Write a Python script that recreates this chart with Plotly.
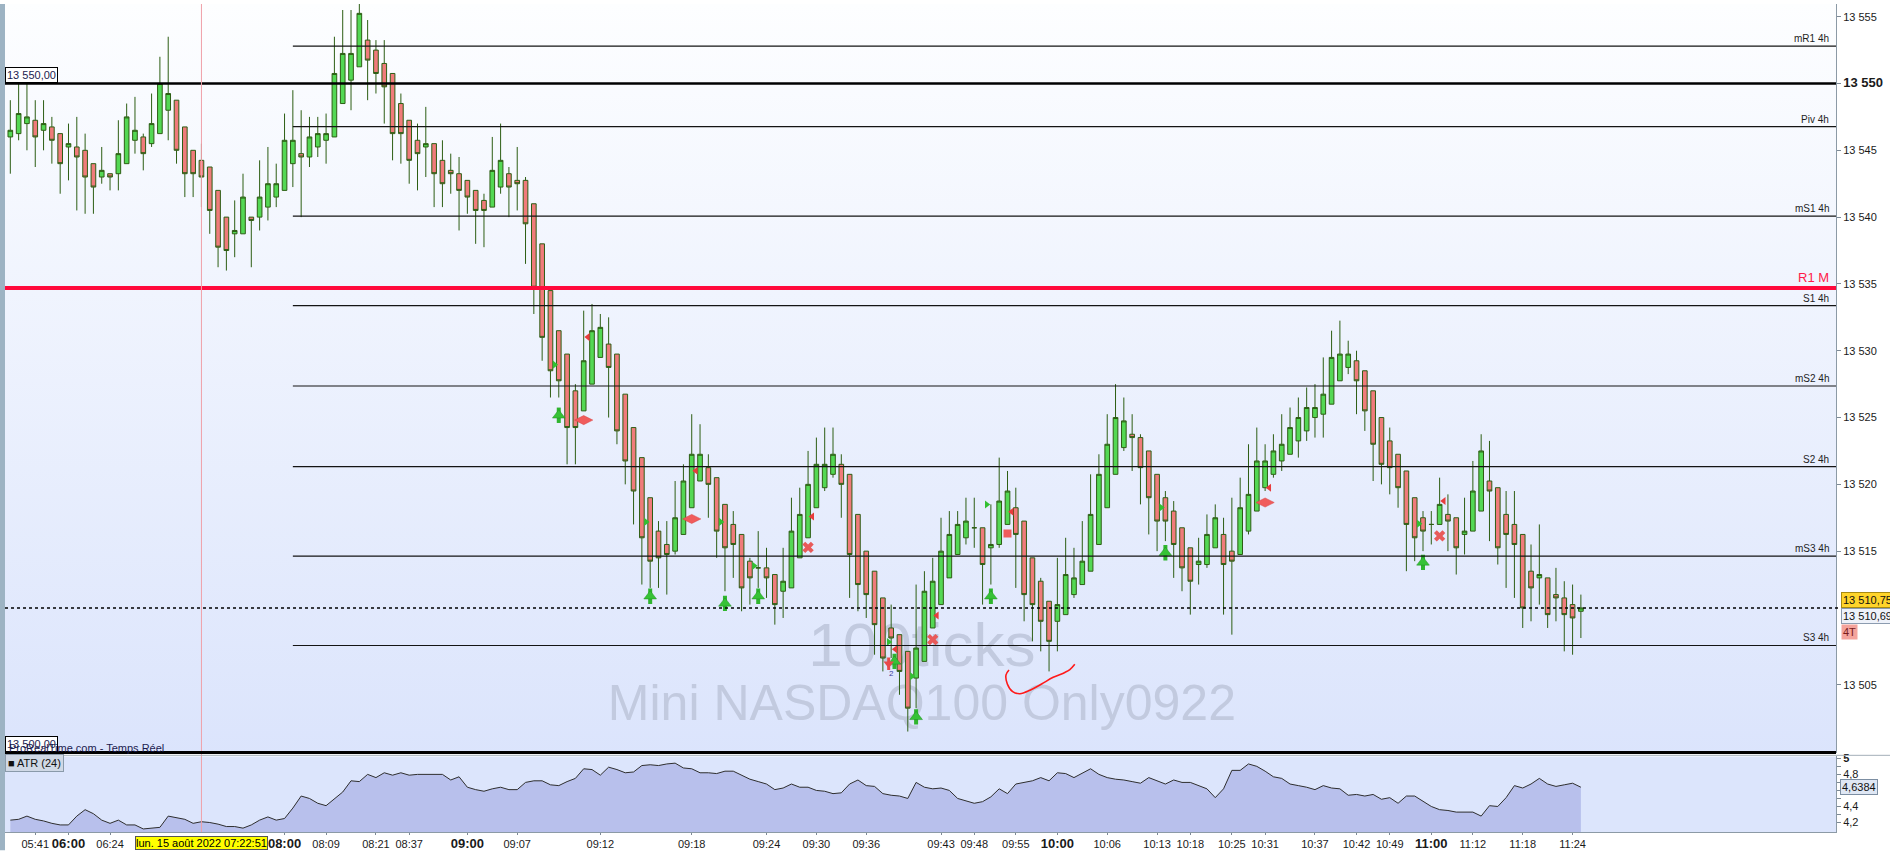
import plotly.graph_objects as go

# ---- data (one bar = 100 ticks, Mini NASDAQ100) ----
bars = list(range(1, 191))

opens = [
    13546.0, 13546.25, 13547.0, 13547.25, 13546.5, 13546.75, 13546.25, 13545.25, 13545.25, 13545.0,
    13544.0, 13543.0, 13543.25, 13543.25, 13544.0, 13545.75, 13546.0, 13545.5, 13546.25, 13548.0,
    13548.75, 13546.75, 13545.0, 13544.25, 13543.75, 13542.0, 13540.0, 13538.75, 13538.75, 13540.0,
    13540.0, 13540.75, 13541.5, 13542.0, 13544.0, 13544.75, 13544.5, 13545.25, 13545.75, 13546.0,
    13548.5, 13550.25, 13551.25, 13553.25, 13552.5, 13551.5, 13550.75, 13548.5, 13547.25, 13545.75,
    13545.25, 13545.5, 13544.25, 13543.5, 13543.25, 13542.75, 13542.0, 13541.25, 13540.75, 13542.25,
    13543.25, 13542.75, 13542.75, 13541.0, 13538.0, 13534.5, 13531.5, 13529.75, 13527.0, 13525.5,
    13527.5, 13529.5, 13530.5, 13529.75, 13526.75, 13524.25, 13522.0, 13519.0, 13516.5, 13515.5,
    13515.0, 13516.25, 13518.25, 13520.25, 13521.25, 13520.5, 13518.5, 13517.0, 13516.25, 13514.25,
    13513.75, 13513.75, 13513.25, 13512.0, 13512.25, 13514.5, 13516.0, 13518.25, 13519.75, 13520.75,
    13521.5, 13520.75, 13517.75, 13515.0, 13513.5, 13511.5, 13509.25, 13508.75, 13507.5, 13505.5,
    13506.75, 13509.25, 13511.0, 13513.0, 13514.75, 13516.0, 13516.75, 13516.75, 13515.25, 13515.5,
    13517.0, 13518.25, 13517.25, 13514.5, 13512.75, 13511.25, 13509.75, 13510.25, 13511.75, 13512.5,
    13513.5, 13515.5, 13518.25, 13520.75, 13522.75, 13523.75, 13523.5, 13522.5, 13520.75, 13519.0,
    13518.0, 13516.75, 13515.25, 13514.0, 13514.0, 13515.25, 13516.25, 13515.0, 13514.75, 13516.5,
    13518.0, 13519.75, 13520.75, 13521.75, 13522.25, 13523.25, 13524.0, 13525.0, 13525.25, 13526.0,
    13527.75, 13528.75, 13529.25, 13528.5, 13527.0, 13525.0, 13523.25, 13522.25, 13521.0, 13519.0,
    13517.5, 13517.0, 13517.0, 13517.75, 13517.5, 13516.25, 13516.5, 13518.0, 13520.25, 13519.75,
    13517.75, 13517.0, 13516.25, 13513.5, 13513.0, 13513.0, 13511.75, 13511.5, 13511.0, 13510.5,
]

highs = [
    13548.75, 13550.0, 13550.0, 13548.75, 13548.75, 13547.5, 13546.25, 13547.0, 13547.5, 13546.25,
    13544.0, 13545.25, 13543.25, 13547.25, 13548.5, 13549.0, 13546.25, 13549.25, 13552.0, 13553.5,
    13548.75, 13546.75, 13545.0, 13545.5, 13543.75, 13542.0, 13540.0, 13541.25, 13543.25, 13540.0,
    13544.25, 13545.25, 13544.0, 13547.75, 13549.5, 13548.0, 13547.5, 13547.5, 13547.75, 13553.5,
    13555.5, 13555.5, 13556.0, 13554.75, 13553.25, 13553.25, 13550.75, 13549.25, 13547.25, 13547.0,
    13548.25, 13545.5, 13545.75, 13544.75, 13544.5, 13542.75, 13542.0, 13541.75, 13546.0, 13547.0,
    13543.75, 13545.25, 13543.0, 13541.0, 13538.0, 13534.5, 13531.5, 13529.75, 13527.5, 13533.0,
    13533.5, 13532.75, 13532.5, 13529.75, 13526.75, 13524.25, 13522.0, 13519.0, 13517.25, 13517.25,
    13520.25, 13521.5, 13525.25, 13524.5, 13522.25, 13520.5, 13518.5, 13518.0, 13516.25, 13514.5,
    13516.5, 13515.25, 13513.25, 13515.25, 13519.0, 13519.75, 13522.5, 13523.5, 13524.25, 13524.25,
    13522.25, 13520.75, 13517.75, 13515.0, 13513.5, 13511.5, 13511.0, 13508.75, 13507.5, 13512.5,
    13513.5, 13514.5, 13517.5, 13518.0, 13518.0, 13519.0, 13519.0, 13516.75, 13518.5, 13522.0,
    13521.0, 13519.75, 13517.25, 13514.5, 13513.0, 13511.25, 13514.5, 13516.0, 13515.25, 13517.25,
    13520.75, 13522.25, 13525.25, 13527.5, 13526.5, 13525.25, 13523.75, 13522.5, 13520.75, 13519.5,
    13518.75, 13516.75, 13515.25, 13516.0, 13517.75, 13518.5, 13517.5, 13519.0, 13520.5, 13523.0,
    13524.25, 13523.0, 13523.75, 13525.25, 13525.75, 13526.5, 13527.25, 13527.5, 13529.5, 13531.5,
    13532.25, 13530.75, 13530.0, 13528.5, 13527.0, 13525.0, 13524.25, 13522.25, 13521.0, 13519.0,
    13518.0, 13518.0, 13520.5, 13519.25, 13517.5, 13519.0, 13521.75, 13523.75, 13523.25, 13519.75,
    13519.5, 13519.5, 13516.25, 13515.5, 13517.0, 13513.0, 13513.75, 13512.75, 13512.5, 13511.75,
]

lows = [
    13543.25, 13545.75, 13545.0, 13543.75, 13545.0, 13544.0, 13541.75, 13542.75, 13540.5, 13540.25,
    13540.25, 13542.5, 13542.0, 13542.0, 13544.0, 13544.75, 13543.5, 13545.25, 13546.25, 13545.75,
    13544.0, 13541.5, 13541.5, 13540.75, 13538.75, 13536.25, 13536.0, 13537.0, 13538.75, 13536.25,
    13539.0, 13539.75, 13540.75, 13542.0, 13542.25, 13540.0, 13543.75, 13544.5, 13544.0, 13546.0,
    13548.5, 13548.0, 13551.25, 13548.75, 13549.25, 13547.0, 13544.25, 13544.0, 13542.5, 13542.0,
    13543.0, 13540.75, 13540.75, 13541.75, 13539.0, 13540.25, 13538.0, 13537.75, 13540.75, 13541.75,
    13540.0, 13540.5, 13536.5, 13532.75, 13529.25, 13526.5, 13526.5, 13521.5, 13521.5, 13525.5,
    13527.5, 13529.5, 13525.0, 13523.0, 13520.0, 13517.0, 13512.5, 13512.25, 13512.25, 13511.75,
    13514.75, 13516.25, 13518.25, 13520.25, 13517.5, 13514.5, 13512.0, 13513.0, 13510.5, 13511.0,
    13512.25, 13511.5, 13509.5, 13510.0, 13512.25, 13514.5, 13516.0, 13518.25, 13519.5, 13520.5,
    13517.5, 13511.5, 13510.5, 13510.0, 13507.25, 13506.0, 13507.0, 13504.25, 13501.5, 13503.25,
    13506.75, 13509.25, 13511.0, 13513.0, 13514.75, 13515.5, 13515.25, 13511.0, 13512.5, 13515.25,
    13517.0, 13512.25, 13509.75, 13508.25, 13507.5, 13506.0, 13507.5, 13510.25, 13511.5, 13512.5,
    13513.5, 13515.5, 13518.25, 13520.75, 13522.5, 13521.0, 13518.5, 13516.25, 13515.0, 13515.75,
    13513.0, 13512.0, 13510.25, 13512.5, 13513.75, 13515.25, 13510.25, 13508.75, 13514.75, 13516.25,
    13518.0, 13519.5, 13520.5, 13521.0, 13522.25, 13522.0, 13523.25, 13523.5, 13523.5, 13526.0,
    13527.75, 13528.25, 13525.25, 13524.0, 13520.25, 13520.0, 13519.25, 13518.25, 13513.5, 13514.25,
    13515.0, 13515.5, 13517.0, 13515.0, 13513.25, 13514.75, 13516.5, 13518.0, 13515.75, 13514.0,
    13512.25, 13511.5, 13509.25, 13509.75, 13511.0, 13509.25, 13509.75, 13507.5, 13507.25, 13508.5,
]

closes = [
    13546.5, 13547.75, 13547.5, 13546.0, 13547.0, 13545.75, 13544.0, 13545.5, 13544.5, 13543.0,
    13542.25, 13543.5, 13543.0, 13544.75, 13547.5, 13546.5, 13544.75, 13547.0, 13550.0, 13549.25,
    13545.0, 13543.25, 13543.25, 13543.0, 13540.5, 13537.75, 13537.5, 13539.0, 13541.5, 13539.75,
    13541.5, 13542.5, 13542.5, 13545.75, 13545.75, 13544.5, 13546.0, 13546.25, 13546.25, 13550.75,
    13552.25, 13552.25, 13555.25, 13551.75, 13550.75, 13549.75, 13546.25, 13546.25, 13544.25, 13544.75,
    13545.5, 13543.25, 13542.5, 13543.25, 13542.0, 13541.5, 13540.5, 13540.5, 13543.5, 13544.25,
    13542.25, 13542.5, 13539.5, 13534.75, 13531.0, 13528.5, 13527.75, 13524.25, 13524.25, 13529.25,
    13531.5, 13531.75, 13528.75, 13524.0, 13521.75, 13519.5, 13516.0, 13514.25, 13514.5, 13514.75,
    13517.5, 13520.25, 13522.25, 13522.25, 13520.0, 13516.5, 13515.25, 13515.5, 13512.25, 13513.0,
    13513.75, 13513.0, 13511.0, 13512.75, 13516.5, 13517.75, 13520.0, 13521.5, 13521.5, 13522.25,
    13520.0, 13514.75, 13512.5, 13511.75, 13509.5, 13507.0, 13508.5, 13506.0, 13503.25, 13507.75,
    13512.0, 13512.75, 13515.0, 13516.25, 13517.0, 13517.25, 13516.75, 13514.0, 13515.5, 13518.75,
    13519.5, 13516.25, 13511.75, 13511.0, 13509.75, 13508.25, 13511.0, 13513.25, 13513.0, 13514.25,
    13517.75, 13520.75, 13523.0, 13525.0, 13524.75, 13523.5, 13521.25, 13519.0, 13517.25, 13517.25,
    13515.5, 13513.75, 13512.75, 13514.25, 13516.25, 13517.5, 13514.0, 13514.25, 13518.25, 13519.25,
    13521.75, 13521.75, 13522.5, 13523.0, 13524.25, 13525.0, 13525.75, 13525.75, 13526.75, 13529.5,
    13529.75, 13529.75, 13527.75, 13525.5, 13523.0, 13521.5, 13521.25, 13519.75, 13517.0, 13516.0,
    13516.5, 13517.0, 13518.5, 13517.25, 13515.25, 13516.5, 13519.5, 13522.5, 13519.5, 13515.25,
    13516.25, 13515.5, 13510.75, 13512.25, 13513.25, 13510.25, 13511.5, 13510.25, 13510.0, 13510.75,
]

atr = [
    4.23, 4.24, 4.28, 4.24, 4.22, 4.19, 4.17, 4.17, 4.28, 4.36,
    4.31, 4.23, 4.19, 4.23, 4.17, 4.17, 4.12, 4.13, 4.14, 4.28,
    4.26, 4.24, 4.19, 4.21, 4.20, 4.18, 4.15, 4.15, 4.13, 4.17,
    4.23, 4.27, 4.23, 4.25, 4.38, 4.53, 4.50, 4.44, 4.41, 4.50,
    4.58, 4.72, 4.71, 4.80, 4.76, 4.82, 4.79, 4.82, 4.79, 4.80,
    4.80, 4.80, 4.80, 4.73, 4.77, 4.64, 4.61, 4.59, 4.62, 4.64,
    4.61, 4.61, 4.70, 4.72, 4.72, 4.67, 4.66, 4.71, 4.75, 4.87,
    4.86, 4.79, 4.89, 4.86, 4.82, 4.83, 4.91, 4.92, 4.91, 4.93,
    4.94, 4.88, 4.87, 4.82, 4.82, 4.81, 4.84, 4.84, 4.79, 4.74,
    4.71, 4.68, 4.61, 4.63, 4.68, 4.64, 4.64, 4.60, 4.59, 4.56,
    4.57, 4.68, 4.73, 4.66, 4.65, 4.56, 4.54, 4.53, 4.50, 4.70,
    4.64, 4.62, 4.63, 4.60, 4.50, 4.47, 4.44, 4.46, 4.52, 4.62,
    4.56, 4.68, 4.70, 4.72, 4.76, 4.72, 4.82, 4.81, 4.76, 4.82,
    4.87, 4.80, 4.76, 4.74, 4.73, 4.71, 4.69, 4.76, 4.72, 4.68,
    4.73, 4.70, 4.70, 4.66, 4.62, 4.51, 4.62, 4.85, 4.85, 4.93,
    4.90, 4.84, 4.77, 4.75, 4.68, 4.66, 4.64, 4.61, 4.66, 4.63,
    4.62, 4.54, 4.55, 4.53, 4.55, 4.49, 4.51, 4.44, 4.53, 4.53,
    4.47, 4.40, 4.36, 4.35, 4.33, 4.33, 4.33, 4.28, 4.41, 4.40,
    4.51, 4.66, 4.63, 4.68, 4.75, 4.68, 4.65, 4.67, 4.69, 4.64,
]

assert len(opens) == len(highs) == len(lows) == len(closes) == len(atr) == len(bars)

# pivot levels (4h) drawn from bar 35 onwards
level_names = ["mR1 4h", "Piv 4h", "mS1 4h", "S1 4h", "mS2 4h", "S2 4h", "mS3 4h", "S3 4h"]
level_values = [13552.80, 13546.78, 13540.08, 13533.38, 13527.36, 13521.33, 13514.63, 13507.94]
level_start_bar = 35
r1_month = 13534.70
round_level = 13550.0
last_price = 13510.75
last_atr = 4.6384

# x axis time labels (bar index -> time)
time_bars = [4, 8, 13, 34, 39, 45, 49, 56, 62, 72, 83, 92, 98, 104, 113,
             117, 122, 127, 133, 139, 143, 148, 152, 158, 163, 167, 172, 177, 183, 189]
time_labels = ["05:41", "06:00", "06:24", "08:00", "08:09", "08:21", "08:37", "09:00", "09:07",
               "09:12", "09:18", "09:24", "09:30", "09:36", "09:43", "09:48", "09:55", "10:00",
               "10:06", "10:13", "10:18", "10:25", "10:31", "10:37", "10:42", "10:49", "11:00",
               "11:12", "11:18", "11:24"]

price_ticks = [13505, 13515, 13520, 13525, 13530, 13535, 13540, 13545, 13550, 13555]
atr_ticks = [4.2, 4.3, 4.4, 4.5, 4.6, 4.7, 4.8, 4.9, 5.0]
atr_tick_text = ["4,2", "", "4,4", "", "", "", "4,8", "", "<b>5</b>"]

# signal markers (bar, price)
up_arrow_x = [67, 78, 87, 91, 107.4, 110, 119, 140, 171]
up_arrow_y = [13525.17, 13511.63, 13511.09, 13511.63, 13506.75, 13502.6, 13511.63, 13514.88, 13514.16]
diamond_x = [70, 83, 152]
diamond_y = [13524.81, 13517.41, 13518.64]
left_tri_x = [70.5, 83.5, 97.5, 107.5, 112.5, 121.5, 152.5, 173.5]
left_tri_y = [13531.02, 13521.02, 13517.59, 13507.66, 13510.18, 13517.95, 13519.75, 13518.75]
right_tri_x = [66.5, 77.5, 86.5, 90.5, 106.7, 109.5, 118.5, 139.5, 170.5]
right_tri_y = [13528.96, 13517.19, 13517.19, 13513.9, 13508.2, 13505.64, 13518.49, 13518.27, 13517.05]
cross_x = [97, 112, 173]
cross_y = [13515.28, 13508.38, 13516.14]
down_arrow_x = [106.7]
down_arrow_y = [13506.57]
block_x = [121]
block_y = [13516.32]

# hand drawn red stroke
stroke_x = [121.18, 120.82, 120.98, 121.62, 122.5, 123.7, 125.1, 126.5, 127.9, 128.5, 129.1]
stroke_y = [13506.10, 13505.74, 13505.06, 13504.48, 13504.33, 13504.59, 13505.06, 13505.56,
            13505.92, 13506.14, 13506.54]

crosshair_bar = 24
crosshair_text = "lun. 15 août 2022 07:22:51"

# ---- layout constants ----
FONT = "Liberation Sans, Arial, sans-serif"
X_RANGE = [0.36, 220.7]
P_RANGE = [13499.93, 13555.95]
ATR_RANGE = [4.082, 5.023]
MAIN_DOM = [0.0960, 1.0]
ATR_DOM = [0.0, 0.0912]
GREEN = "#54d854"
RED = "#f07b7b"
EDGE = "#2d5e14"

fig = go.Figure()

# price panel background (white -> light blue)
fig.add_trace(go.Scatter(
    x=[X_RANGE[0], X_RANGE[1], X_RANGE[1], X_RANGE[0], X_RANGE[0]],
    y=[P_RANGE[0], P_RANGE[0], P_RANGE[1], P_RANGE[1], P_RANGE[0]],
    mode="none", fill="toself",
    fillgradient=dict(type="vertical", colorscale=[[0, "#dbe4fc"], [1, "#fdfeff"]],
                      start=P_RANGE[0], stop=P_RANGE[1]),
    hoverinfo="skip", xaxis="x", yaxis="y"))

# watermark (behind the candles)
fig.add_trace(go.Scatter(
    x=[110.7, 110.7], y=[13507.6, 13503.3], mode="text",
    text=["100ticks", "Mini NASDAQ100 Only0922"],
    textfont=dict(size=[62, 50], color="#c2cadf", family=FONT),
    hoverinfo="skip", xaxis="x", yaxis="y"))

# candles on an overlaid axis so they sit above the watermark
fig.add_trace(go.Candlestick(
    x=bars, open=opens, high=highs, low=lows, close=closes,
    increasing=dict(fillcolor=GREEN, line=dict(color=EDGE, width=1)),
    decreasing=dict(fillcolor=RED, line=dict(color=EDGE, width=1)),
    xaxis="x", yaxis="y3", hoverinfo="skip"))

# markers
fig.add_trace(go.Scatter(x=up_arrow_x, y=up_arrow_y, mode="markers", xaxis="x", yaxis="y3",
                         marker=dict(symbol="line-ns", size=11, line=dict(color="#2fb52f", width=4))))
fig.add_trace(go.Scatter(x=up_arrow_x, y=up_arrow_y, mode="markers", xaxis="x", yaxis="y3",
                         marker=dict(symbol="triangle-up", size=11, color="#36c236",
                                     line=dict(color="#1f8f1f", width=0.5))))
fig.add_trace(go.Scatter(x=down_arrow_x, y=down_arrow_y, mode="markers", xaxis="x", yaxis="y3",
                         marker=dict(symbol="line-ns", size=9, line=dict(color="#e84a4a", width=3))))
fig.add_trace(go.Scatter(x=down_arrow_x, y=down_arrow_y, mode="markers", xaxis="x", yaxis="y3",
                         marker=dict(symbol="triangle-down", size=9, color="#e84a4a")))
fig.add_trace(go.Scatter(x=diamond_x, y=diamond_y, mode="markers", xaxis="x", yaxis="y3",
                         marker=dict(symbol="diamond-wide", size=13, color="#f05c5c",
                                     line=dict(color="#d94040", width=0.5))))
fig.add_trace(go.Scatter(x=left_tri_x, y=left_tri_y, mode="markers", xaxis="x", yaxis="y3",
                         marker=dict(symbol="triangle-left", size=7, color="#e83c3c")))
fig.add_trace(go.Scatter(x=right_tri_x, y=right_tri_y, mode="markers", xaxis="x", yaxis="y3",
                         marker=dict(symbol="triangle-right", size=7, color="#32c032")))
fig.add_trace(go.Scatter(x=cross_x, y=cross_y, mode="markers", xaxis="x", yaxis="y3",
                         marker=dict(symbol="x", size=10, color="#e85a5a", line=dict(width=0))))
fig.add_trace(go.Scatter(x=block_x, y=block_y, mode="markers", xaxis="x", yaxis="y3",
                         marker=dict(symbol="square", size=8, color="#f05c5c")))
fig.add_trace(go.Scatter(x=[down_arrow_x[0] + 0.3], y=[down_arrow_y[0] - 0.8], mode="text",
                         text=["2"], textfont=dict(size=8, color="#3a3a99", family=FONT),
                         xaxis="x", yaxis="y3"))
fig.add_trace(go.Scatter(x=stroke_x, y=stroke_y, mode="lines", xaxis="x", yaxis="y3",
                         line=dict(color="#ff1a1a", width=1.6, shape="spline")))

# ATR panel
fig.add_trace(go.Scatter(x=bars, y=atr, mode="lines", fill="tozeroy", fillcolor="#b8c0ec",
                         line=dict(color="#2e2e2e", width=1), xaxis="x2", yaxis="y2",
                         hoverinfo="skip"))

# ---- shapes ----
shapes = []
for v in level_values:
    shapes.append(dict(type="line", xref="x", yref="y", x0=level_start_bar, x1=X_RANGE[1],
                       y0=v, y1=v, line=dict(color="#141414", width=1.2)))
shapes.append(dict(type="line", xref="paper", yref="y", x0=0, x1=1, y0=round_level, y1=round_level,
                   line=dict(color="#000000", width=2.6)))
shapes.append(dict(type="line", xref="paper", yref="y", x0=0, x1=1, y0=r1_month, y1=r1_month,
                   line=dict(color="#ff0a3c", width=4)))
shapes.append(dict(type="line", xref="paper", yref="y", x0=0, x1=1.003, y0=last_price, y1=last_price,
                   line=dict(color="#000000", width=1.6, dash="dot")))
shapes.append(dict(type="line", xref="x", yref="paper", x0=crosshair_bar, x1=crosshair_bar, y0=0, y1=1,
                   line=dict(color="#f0a0a8", width=1)))
# panel separator
shapes.append(dict(type="line", xref="paper", yref="paper", x0=0, x1=1, y0=MAIN_DOM[0], y1=MAIN_DOM[0],
                   line=dict(color="#000000", width=3)))
shapes.append(dict(type="line", xref="paper", yref="paper", x0=0, x1=1.03, y0=0.0926, y1=0.0926,
                   line=dict(color="#a4aeb8", width=1)))
# left frame strip
shapes.append(dict(type="rect", xref="paper", yref="paper", x0=-0.0028, x1=0, y0=-0.022, y1=1,
                   fillcolor="#9db3c3", line=dict(width=0)))

# ---- annotations ----
ann = []
for name, v in zip(level_names, level_values):
    ann.append(dict(x=1, xref="paper", y=v, yref="y", xanchor="right", yanchor="bottom", xshift=-5,
                    text=name, showarrow=False, font=dict(size=10, color="#1e1e1e", family=FONT)))
ann.append(dict(x=1, xref="paper", y=r1_month, yref="y", xanchor="right", yanchor="bottom", xshift=-5,
                yshift=1, text="R1 M", showarrow=False, font=dict(size=13, color="#ff1a4a", family=FONT)))
# right price boxes
ann.append(dict(x=1, xref="paper", y=13511.31, yref="y", xanchor="left", xshift=5, text="13 510,75",
                showarrow=False, bgcolor="#ffd42a", bordercolor="#a88a10", borderwidth=1, borderpad=1,
                font=dict(size=11, color="#111", family=FONT)))
ann.append(dict(x=1, xref="paper", y=13510.16, yref="y", xanchor="left", xshift=5, text="13 510,69",
                showarrow=False, bgcolor="#eef2fa", bordercolor="#8c9cb0", borderwidth=1, borderpad=1,
                font=dict(size=11, color="#111", family=FONT)))
ann.append(dict(x=1, xref="paper", y=13508.97, yref="y", xanchor="left", xshift=5, text="4T",
                showarrow=False, bgcolor="#f4a39c", borderpad=1,
                font=dict(size=11, color="#7a1c1c", family=FONT)))
ann.append(dict(x=1, xref="paper", y=last_atr, yref="y2", xanchor="left", xshift=4, text="4,6384",
                showarrow=False, bgcolor="#dfe7f4", bordercolor="#7c8ea2", borderwidth=1, borderpad=1,
                font=dict(size=11, color="#111", family=FONT)))
# left labels
ann.append(dict(x=0, xref="paper", y=13550.63, yref="y", xanchor="left", text="13 550,00",
                showarrow=False, bgcolor="#ffffff", bordercolor="#000000", borderwidth=1, borderpad=1,
                font=dict(size=11, color="#1c1c50", family=FONT)))
ann.append(dict(x=0, xref="paper", y=13500.56, yref="y", xanchor="left", text="13 500,00",
                showarrow=False, bgcolor="#ffffff", bordercolor="#000000", borderwidth=1, borderpad=1,
                font=dict(size=11, color="#1c1c50", family=FONT)))
ann.append(dict(x=0, xref="paper", y=13500.3, yref="y", xanchor="left", xshift=2,
                text="ProRealTime.com - Temps Réel", showarrow=False,
                font=dict(size=11, color="#1c1c50", family=FONT)))
ann.append(dict(x=0, xref="paper", y=4.936, yref="y2", xanchor="left", text="■ ATR (24)",
                showarrow=False, bgcolor="#d0d9e6", bordercolor="#8a9aaa", borderwidth=1, borderpad=2,
                font=dict(size=11, color="#111", family=FONT)))
# crosshair date
ann.append(dict(x=crosshair_bar, xref="x2", y=-0.0132, yref="paper", xanchor="center", yanchor="middle",
                text=crosshair_text, showarrow=False, bgcolor="#ffff00", bordercolor="#555555",
                borderwidth=1, borderpad=0, font=dict(size=11, color="#000", family=FONT)))


def time_text(t):
    if t.endswith(":00"):
        return "<b><span style='font-size:13px'>" + t + "</span></b>"
    return t


def price_text(v):
    s = f"{v:,}".replace(",", " ")
    if v == round_level:
        return "<b><span style='font-size:13px'>" + s + "</span></b>"
    return s


fig.update_layout(
    width=1890, height=851,
    margin=dict(l=5, r=54, t=0, b=18),
    paper_bgcolor="#ffffff",
    plot_bgcolor="#dce5fc",
    showlegend=False,
    hovermode=False,
    boxgap=0.2,
    font=dict(family=FONT, size=11, color="#1a1a1a"),
    xaxis=dict(domain=[0, 1], range=X_RANGE, anchor="y", showticklabels=False, showgrid=False,
               zeroline=False, ticks="", rangeslider=dict(visible=False), fixedrange=True),
    yaxis=dict(domain=MAIN_DOM, range=P_RANGE, anchor="x", side="right",
               tickvals=price_ticks, ticktext=[price_text(v) for v in price_ticks],
               ticks="outside", ticklen=4, tickcolor="#7d8a96", showline=True, linecolor="#8c9aa6",
               showgrid=False, zeroline=False, tickfont=dict(size=11, color="#1a1a1a")),
    yaxis3=dict(domain=MAIN_DOM, range=P_RANGE, anchor="x", overlaying="y", visible=False),
    xaxis2=dict(domain=[0, 1], range=X_RANGE, matches="x", anchor="y2",
                tickvals=time_bars, ticktext=[time_text(t) for t in time_labels],
                ticks="outside", ticklen=2, tickcolor="#7d8a96", showline=True, linecolor="#8c9aa6",
                showgrid=False, zeroline=False, tickfont=dict(size=11, color="#1a1a1a")),
    yaxis2=dict(domain=ATR_DOM, range=ATR_RANGE, anchor="x2", side="right",
                tickvals=atr_ticks, ticktext=atr_tick_text,
                ticks="outside", ticklen=4, tickcolor="#7d8a96", showline=True, linecolor="#8c9aa6",
                showgrid=False, zeroline=False, tickfont=dict(size=11, color="#1a1a1a")),
    shapes=shapes,
    annotations=ann,
)

# page body margin off so the figure sits at the window origin; no modebar
fig.write_html("out.html", config={"displayModeBar": False},
               post_script="document.body.style.margin='0';")
